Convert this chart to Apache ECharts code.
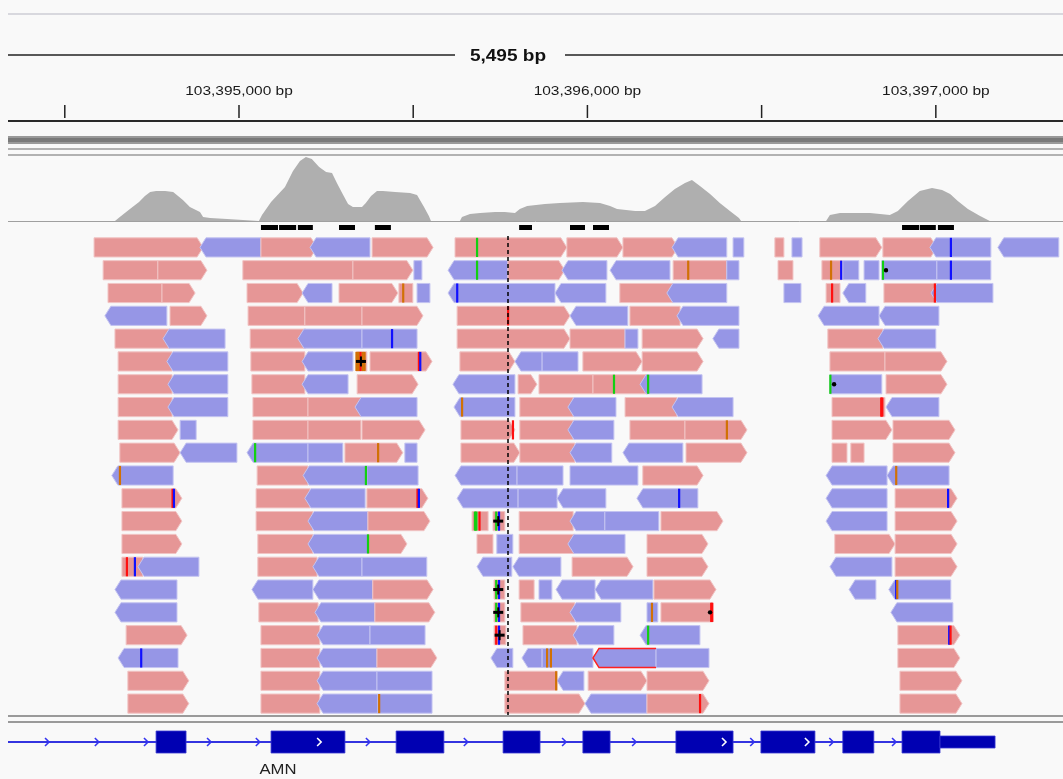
<!DOCTYPE html>
<html>
<head>
<meta charset="utf-8">
<script src="https://cdn.jsdelivr.net/npm/echarts@6/dist/echarts.min.js"></script>
<style>
  html, body { margin: 0; padding: 0; background: #f9f9f9; }
  #igv { width: 1063px; height: 779px; }
</style>
</head>
<body>
<div id="igv"></div>
<script>
// ---- data (positions are bp offsets from POS_BASE) ----
const POS_BASE = 103394000;
const VIEW_MIN = 337;
const VIEW_MAX = 3365;
const SPAN_LABEL = '5,495 bp';
const RULER_TICKS = [500, 1000, 1500, 2000, 2500, 3000];
const CENTER_BP = 1772;

// coverage profile: [bp, depth]
const COVERAGE = [
  [600, 0], [644, 0], [658, 4], [687, 12], [713, 19], [730, 25], [745, 29], [762, 30], [788, 30], [811, 29],
  [825, 25], [839, 21], [859, 14], [888, 9], [897, 4], [917, 3], [966, 2], [968, 0],
  [1057, 0], [1066, 6], [1092, 19], [1132, 34], [1155, 50], [1175, 60], [1192, 64], [1209, 62], [1230, 54],
  [1250, 49], [1267, 48], [1281, 38], [1296, 28], [1313, 17], [1327, 14], [1353, 14], [1364, 18], [1379, 25],
  [1396, 30], [1413, 30], [1448, 29], [1491, 28], [1511, 26], [1531, 14], [1545, 5], [1551, 0],
  [1634, 0], [1640, 4], [1663, 7], [1692, 8], [1735, 9], [1763, 9], [1792, 8], [1806, 12], [1827, 15],
  [1878, 17], [1921, 18], [1987, 19], [2036, 18], [2065, 15], [2085, 12], [2137, 10], [2165, 10], [2194, 15],
  [2223, 24], [2251, 32], [2280, 38], [2300, 41], [2323, 35], [2352, 27], [2380, 18], [2409, 10], [2435, 3], [2441, 0],
  [2685, 0], [2696, 6], [2725, 8], [2811, 8], [2840, 7], [2868, 6], [2891, 10], [2920, 20], [2954, 30],
  [2989, 33], [3018, 31], [3041, 27], [3063, 20], [3092, 12], [3127, 5], [3155, 0], [3365, 0]
];
// allele-coloured coverage slices: [bp, fromDepth, toDepth, base]
const ALLELE_BARS = [[1749, 0, 7, 'A'], [1749, 7, 9, 'C'], [3041, 0, 16, 'C'], [3041, 16, 26, 'G']];
// black marks under coverage: [start, end]
const FEATURE_MARKS = [
  [1063, 1112], [1115, 1164], [1169, 1212], [1287, 1333], [1390, 1436],
  [1804, 1841], [1950, 1993], [2016, 2062], [2903, 2952], [2954, 3000], [3006, 3052]
];

// reads: [row, start, end, forward(1)/reverse(0), arrow(1/0)]
const READS = [
  [1,584,897,1,1],[1,888,1063,0,1],[1,1063,1224,1,1],[1,1204,1376,0,1],[1,1382,1557,1,1],[1,1620,1941,1,1],
  [1,1941,2102,1,1],[1,2102,2260,1,1],[1,2243,2400,0,1],[1,2418,2449,0,0],[1,2538,2564,1,0],[1,2587,2616,0,0],
  [1,2667,2845,1,1],[1,2848,3003,1,1],[1,2983,3158,0,1],[1,3178,3353,0,1],
  [2,610,767,1,0],[2,767,908,1,1],[2,1011,1327,1,0],[2,1327,1499,1,1],[2,1502,1525,0,0],[2,1600,1772,0,1],
  [2,1772,1935,1,1],[2,1927,2056,0,1],[2,2065,2237,0,1],[2,2246,2400,1,0],[2,2400,2435,0,0],[2,2547,2590,1,0],
  [2,2673,2731,1,0],[2,2733,2779,0,0],[2,2794,2837,0,0],[2,2845,3003,0,0],[2,3003,3158,0,0],
  [3,624,779,1,0],[3,779,874,1,1],[3,1023,1184,1,1],[3,1181,1267,0,1],[3,1287,1456,1,1],[3,1459,1499,1,0],
  [3,1511,1548,0,0],[3,1600,1907,0,1],[3,1907,2053,0,1],[3,2093,2246,1,0],[3,2228,2400,0,1],[3,2564,2613,0,0],
  [3,2685,2725,1,0],[3,2733,2799,0,1],[3,2851,3003,1,0],[3,2986,3164,0,1],
  [4,615,793,0,1],[4,802,908,1,1],[4,1026,1189,1,0],[4,1189,1353,1,0],[4,1353,1528,1,1],[4,1626,1772,1,0],
  [4,1772,1950,1,1],[4,1950,2116,0,1],[4,2122,2266,1,0],[4,2257,2435,0,1],[4,2662,2837,0,1],[4,2837,3009,0,1],
  [5,644,802,1,0],[5,782,960,0,1],[5,1032,1192,1,0],[5,1169,1353,0,1],[5,1353,1511,0,0],[5,1626,1950,1,1],
  [5,1950,2108,1,0],[5,2108,2145,0,0],[5,2157,2332,1,1],[5,2360,2435,0,1],[5,2690,2848,1,0],[5,2834,3000,0,1],
  [6,653,808,1,0],[6,793,968,0,1],[6,1034,1189,1,0],[6,1181,1327,0,1],[6,1336,1367,1,0],[6,1376,1554,1,1],
  [6,1634,1792,1,1],[6,1792,1870,0,1],[6,1870,1973,0,0],[6,1987,2157,1,1],[6,2157,2332,1,1],[6,2696,2854,1,0],
  [6,2854,3032,1,1],
  [7,653,808,1,0],[7,796,968,0,1],[7,1037,1189,1,0],[7,1181,1313,0,1],[7,1339,1514,1,1],[7,1614,1792,0,1],
  [7,1801,1855,1,1],[7,1861,2016,1,0],[7,2016,2174,1,0],[7,2151,2329,0,1],[7,2696,2845,0,0],[7,2857,3032,1,1],
  [8,653,808,1,0],[8,796,968,0,1],[8,1040,1198,1,0],[8,1198,1350,1,0],[8,1333,1511,0,1],[8,1617,1792,0,1],
  [8,1806,1959,1,0],[8,1944,2082,0,1],[8,2108,2257,1,0],[8,2243,2418,0,1],[8,2702,2854,1,0],[8,2857,3009,0,1],
  [9,653,825,1,1],[9,831,877,0,0],[9,1040,1198,1,0],[9,1198,1350,1,0],[9,1353,1534,1,1],[9,1637,1792,1,1],
  [9,1806,1959,1,0],[9,1944,2076,0,1],[9,2122,2280,1,0],[9,2280,2458,1,1],[9,2702,2874,1,1],[9,2877,3055,1,1],
  [10,658,831,1,1],[10,831,994,0,1],[10,1023,1198,0,1],[10,1198,1298,0,0],[10,1304,1470,1,1],[10,1476,1511,0,0],
  [10,1637,1806,1,1],[10,1806,1964,1,0],[10,1950,2070,0,1],[10,2102,2274,0,1],[10,2283,2458,1,1],[10,2702,2745,1,0],
  [10,2756,2794,1,0],[10,2877,3055,1,1],
  [11,635,811,0,1],[11,1052,1198,1,0],[11,1184,1367,0,1],[11,1367,1514,0,0],[11,1620,1798,0,1],[11,1798,1930,0,0],
  [11,1950,2145,0,0],[11,2159,2332,1,1],[11,2685,2860,0,1],[11,2860,3038,0,1],
  [12,664,836,1,1],[12,1049,1204,1,0],[12,1189,1362,0,1],[12,1367,1542,1,1],[12,1626,1801,0,1],[12,1801,1913,0,0],
  [12,1913,2053,0,1],[12,2142,2317,0,1],[12,2685,2860,0,1],[12,2883,3061,1,1],
  [13,664,836,1,1],[13,1049,1212,1,0],[13,1198,1370,0,1],[13,1370,1548,1,1],[13,1669,1715,1,0],[13,1729,1763,1,0],
  [13,1804,1959,1,0],[13,1950,2050,0,1],[13,2050,2205,0,0],[13,2211,2389,1,1],[13,2685,2860,0,1],[13,2883,3061,1,1],
  [14,664,836,1,1],[14,1054,1212,1,0],[14,1198,1370,0,1],[14,1370,1482,1,1],[14,1683,1729,1,0],[14,1740,1786,0,0],
  [14,1804,1964,1,0],[14,1944,2108,0,1],[14,2171,2346,1,1],[14,2710,2883,1,1],[14,2883,3061,1,1],
  [15,664,724,1,0],[15,710,885,0,1],[15,1054,1224,1,0],[15,1212,1353,0,1],[15,1353,1539,0,0],[15,1683,1783,0,1],
  [15,1786,1924,0,1],[15,1956,2131,1,1],[15,2171,2346,1,1],[15,2696,2874,0,1],[15,2883,3061,1,1],
  [16,644,822,0,1],[16,1037,1212,0,1],[16,1212,1384,0,1],[16,1384,1557,1,1],[16,1732,1763,1,0],[16,1804,1847,1,0],
  [16,1861,1898,0,0],[16,1910,2022,0,1],[16,2022,2188,0,1],[16,2191,2369,1,1],[16,2751,2828,0,1],[16,2865,3043,0,1],
  [17,644,822,0,1],[17,1057,1227,1,0],[17,1218,1390,0,1],[17,1390,1562,1,1],[17,1732,1763,1,0],[17,1809,1964,1,0],
  [17,1950,2096,0,1],[17,2171,2202,0,0],[17,2211,2360,1,0],[17,2871,3049,0,1],
  [18,676,851,1,1],[18,1063,1232,1,0],[18,1224,1376,0,1],[18,1376,1534,0,0],[18,1732,1766,1,0],[18,1815,1970,1,0],
  [18,1959,2076,0,1],[18,2151,2323,0,1],[18,2891,3069,1,1],
  [19,653,825,0,1],[19,1063,1232,1,0],[19,1224,1396,0,1],[19,1396,1568,1,1],[19,1723,1786,0,1],[19,1812,1870,0,1],
  [19,1870,2016,0,0],[19,2016,2197,0,1],[19,2197,2349,0,0],[19,2891,3069,1,1],
  [20,681,856,1,1],[20,1063,1232,1,0],[20,1224,1396,0,1],[20,1396,1554,0,0],[20,1763,1913,1,0],[20,1913,1990,0,1],
  [20,2002,2171,1,1],[20,2171,2349,1,1],[20,2897,3075,1,1],
  [21,681,856,1,1],[21,1063,1232,1,0],[21,1224,1399,0,1],[21,1399,1554,0,0],[21,1763,1993,1,1],[21,1993,2171,0,1],
  [21,2171,2349,1,1],[21,2897,3075,1,1]
];
// read drawn with a red outline: [row, start, end]
const OUTLINED_READS = [[19, 2016, 2197]];
// mismatching bases: [row, bp, base]
const MISMATCHES = [
  [1,1683,'A'],[1,3043,'C'],
  [2,1683,'A'],[2,2289,'G'],[2,2699,'G'],[2,2728,'C'],[2,2848,'A'],[2,3043,'C'],
  [3,1626,'C'],[3,1471,'G'],[3,2702,'T'],[3,2997,'T'],
  [4,1772,'T'],
  [5,1439,'C'],
  [6,1337,'G'],[6,1341,'G'],[6,1345,'G'],[6,1349,'T'],[6,1355,'G'],[6,1360,'G'],[6,1516,'T'],[6,1520,'C'],
  [7,2076,'A'],[7,2174,'A'],[7,2697,'A'],
  [8,1640,'G'],[8,2843,'T'],[8,2846,'T'],
  [9,1786,'T'],[9,2400,'G'],
  [10,1046,'A'],[10,1399,'G'],
  [11,658,'G'],[11,1364,'A'],[11,2886,'G'],
  [12,809,'T'],[12,813,'C'],[12,1512,'T'],[12,1516,'C'],[12,2263,'C'],[12,3035,'C'],
  [13,1677,'A'],[13,1681,'A'],[13,1690,'T'],[13,1738,'A'],[13,1746,'C'],
  [14,1370,'A'],
  [15,678,'T'],[15,701,'C'],
  [16,1738,'A'],[16,1746,'C'],[16,2886,'C'],[16,2889,'G'],
  [17,1738,'A'],[17,1746,'C'],[17,2185,'G'],[17,2355,'T'],[17,2358,'T'],
  [18,1738,'T'],[18,1746,'C'],[18,2174,'A'],[18,3038,'C'],[18,3042,'T'],
  [19,719,'C'],[19,1884,'G'],[19,1895,'G'],
  [20,1910,'G'],
  [21,1402,'G'],[21,2323,'T']
];
// insertion markers: [row, bp]
const INSERTIONS = [[6, 1350], [13, 1744], [16, 1744], [17, 1744], [18, 1748]];
// small black indel dots: [row, bp]
const INDEL_DOTS = [[2, 2857], [7, 2708], [17, 2352]];

// gene model (AMN)
const GENE_NAME = 'AMN';
const GENE_LABEL_BP = 1112;
const GENE_SPAN = [[300, 3012]];
const EXONS = [[762,848],[1092,1304],[1451,1588],[1758,1864],[1987,2065],[2254,2418],[2498,2653],[2733,2822],[2903,3012]];
const UTRS = [[3012, 3170]];
const INTRON_ARROWS = [449, 592, 733, 914, 1054, 1370, 1651, 1933, 2134, 2473, 2700, 2880];
const EXON_ARROWS = [1230, 2392, 2630];

// ---- colours ----
const FWD_COLOR = '#e69696';
const REV_COLOR = '#9696e6';
const BASE_COLORS = { A: '#12d012', C: '#1010ff', G: '#d17105', T: '#ff1010' };
const GENE_COLOR = '#0000b2';
const FONT = '"Liberation Sans", Arial, sans-serif';
const STRETCH = 1.19;

const chart = echarts.init(document.getElementById('igv'));

function fmtPos(v) {
  return (POS_BASE + v).toLocaleString('en-US') + ' bp';
}

function readHalf(api) {
  return api.size([0, 1])[1] * 0.42;
}

function renderRead(params, api) {
  const row = api.value(0), s = api.value(1), e = api.value(2);
  const fwd = api.value(3) === 1, arrow = api.value(4) === 1;
  const p0 = api.coord([s, row]), p1 = api.coord([e, row]);
  const hh = readHalf(api);
  const yc = p0[1], top = yc - hh, bot = yc + hh;
  const x0 = p0[0], x1 = p1[0];
  const tip = Math.min(6, (x1 - x0) / 2);
  let pts;
  if (!arrow) pts = [[x0, top], [x1, top], [x1, bot], [x0, bot]];
  else if (fwd) pts = [[x0, top], [x1 - tip, top], [x1, yc], [x1 - tip, bot], [x0, bot]];
  else pts = [[x0 + tip, top], [x1, top], [x1, bot], [x0 + tip, bot], [x0, yc]];
  return {
    type: 'polygon',
    shape: { points: pts },
    style: { fill: fwd ? FWD_COLOR : REV_COLOR, stroke: fwd ? '#f1c4c4' : '#c4c4f1', lineWidth: 1 }
  };
}

function renderOutline(params, api) {
  const row = api.value(0);
  const p0 = api.coord([api.value(1), row]), p1 = api.coord([api.value(2), row]);
  const hh = readHalf(api), yc = p0[1];
  const x0 = p0[0], x1 = p1[0];
  return {
    type: 'polyline',
    shape: { points: [[x1, yc - hh], [x0 + 6, yc - hh], [x0, yc], [x0 + 6, yc + hh], [x1, yc + hh]] },
    style: { stroke: '#ff2020', lineWidth: 1.5, fill: null }
  };
}

function renderMismatch(params, api) {
  const p = api.coord([api.value(1), api.value(0)]);
  const hh = readHalf(api);
  return {
    type: 'rect',
    shape: { x: p[0] - 1, y: p[1] - hh, width: 2.2, height: hh * 2 },
    style: { fill: BASE_COLORS[MISMATCHES[params.dataIndex][2]] }
  };
}

function renderInsertion(params, api) {
  const p = api.coord([api.value(1), api.value(0)]);
  return {
    type: 'group',
    children: [
      { type: 'rect', shape: { x: p[0] - 5, y: p[1] - 1.5, width: 10, height: 3 }, style: { fill: '#000' } },
      { type: 'rect', shape: { x: p[0] - 1, y: p[1] - 5, width: 2, height: 10 }, style: { fill: '#000' } }
    ]
  };
}

function renderDot(params, api) {
  const p = api.coord([api.value(1), api.value(0)]);
  return { type: 'circle', shape: { cx: p[0], cy: p[1], r: 2.2 }, style: { fill: '#000' } };
}

function renderFeatureMark(params, api) {
  const x0 = api.coord([api.value(0), 1])[0], x1 = api.coord([api.value(1), 1])[0];
  const y = params.coordSys.y - 11;
  return { type: 'rect', shape: { x: x0, y: y, width: x1 - x0, height: 5 }, style: { fill: '#000' } };
}

function renderAllele(params, api) {
  const bp = api.value(0);
  const a = api.coord([bp, api.value(1)]), b = api.coord([bp, api.value(2)]);
  return {
    type: 'rect',
    shape: { x: a[0] - 1, y: b[1], width: 2, height: a[1] - b[1] },
    style: { fill: BASE_COLORS[ALLELE_BARS[params.dataIndex][3]] }
  };
}

function renderRulerTick(params, api) {
  const v = api.value(0);
  const x = api.coord([v, 0])[0];
  const bottom = params.coordSys.y + params.coordSys.height;
  const children = [{
    type: 'line',
    shape: { x1: x, y1: bottom - 16, x2: x, y2: bottom - 3 },
    style: { stroke: '#222', lineWidth: 1.5 }
  }];
  if (v % 1000 === 0) {
    children.push({
      type: 'text', x: x, y: bottom - 30, scaleX: STRETCH,
      style: { text: fmtPos(v), align: 'center', verticalAlign: 'middle', font: '13px ' + FONT, fill: '#1a1a1a' }
    });
  }
  return { type: 'group', children };
}

function geneY(api) {
  return api.coord([VIEW_MIN, 0.5])[1];
}

function renderIntronLine(params, api) {
  const x0 = api.coord([api.value(0), 0.5])[0], x1 = api.coord([api.value(1), 0.5])[0];
  const y = geneY(api);
  return { type: 'line', shape: { x1: x0, y1: y, x2: x1, y2: y }, style: { stroke: '#3434e0', lineWidth: 2 } };
}

function makeBlockRenderer(half) {
  return function (params, api) {
    const x0 = api.coord([api.value(0), 0.5])[0], x1 = api.coord([api.value(1), 0.5])[0];
    const y = geneY(api);
    return {
      type: 'rect',
      shape: { x: x0, y: y - half, width: x1 - x0, height: half * 2 },
      style: { fill: GENE_COLOR, stroke: '#3a3ad0', lineWidth: 0.8 }
    };
  };
}

function makeChevronRenderer(color) {
  return function (params, api) {
    const x = api.coord([api.value(0), 0.5])[0];
    const y = geneY(api);
    return {
      type: 'polyline',
      shape: { points: [[x - 2, y - 4], [x + 2, y], [x - 2, y + 4]] },
      style: { stroke: color, lineWidth: 1.6, fill: null }
    };
  };
}

function renderGeneLabel(params, api) {
  const x = api.coord([api.value(0), 0.5])[0];
  return {
    type: 'text', x: x, y: geneY(api) + 28, scaleX: STRETCH,
    style: { text: GENE_NAME, align: 'center', verticalAlign: 'middle', font: '14px ' + FONT, fill: '#222' }
  };
}

const xAxes = [0, 1, 2, 3].map(i => ({ type: 'value', gridIndex: i, min: VIEW_MIN, max: VIEW_MAX, show: false }));

const option = {
  backgroundColor: '#f9f9f9',
  animation: false,
  grid: [
    { left: 8, right: 0, top: 151, height: 70 },   // coverage
    { left: 8, right: 0, top: 236, height: 479 },  // alignments
    { left: 8, right: 0, top: 60, height: 61 },    // ruler
    { left: 8, right: 0, top: 725, height: 34 }    // gene
  ],
  xAxis: xAxes,
  yAxis: [
    { type: 'value', gridIndex: 0, min: 0, max: 70, show: false },
    { type: 'value', gridIndex: 1, min: 0.5, max: 21.5, inverse: true, show: false },
    { type: 'value', gridIndex: 2, min: 0, max: 1, show: false },
    { type: 'value', gridIndex: 3, min: 0, max: 1, show: false }
  ],
  graphic: [
    { type: 'line', shape: { x1: 8, y1: 14, x2: 1063, y2: 14 }, style: { stroke: '#d8d8de', lineWidth: 2 } },
    { type: 'line', shape: { x1: 8, y1: 55, x2: 455, y2: 55 }, style: { stroke: '#222', lineWidth: 1.3 } },
    { type: 'line', shape: { x1: 565, y1: 55, x2: 1063, y2: 55 }, style: { stroke: '#222', lineWidth: 1.3 } },
    { type: 'text', x: 508, y: 57, scaleX: STRETCH,
      style: { text: SPAN_LABEL, align: 'center', verticalAlign: 'middle', font: 'bold 16px ' + FONT, fill: '#111' } },
    { type: 'line', shape: { x1: 8, y1: 121, x2: 1063, y2: 121 }, style: { stroke: '#2a2a2a', lineWidth: 2 } },
    { type: 'rect', shape: { x: 8, y: 136, width: 1055, height: 8 }, style: { fill: '#9a9a9a' } },
    { type: 'rect', shape: { x: 8, y: 138, width: 1055, height: 4 }, style: { fill: '#7a7a7a' } },
    { type: 'line', shape: { x1: 8, y1: 149, x2: 1063, y2: 149 }, style: { stroke: '#9a9a9a', lineWidth: 1.5 } },
    { type: 'line', shape: { x1: 8, y1: 155, x2: 1063, y2: 155 }, style: { stroke: '#9a9a9a', lineWidth: 1.5 } },
    { type: 'line', shape: { x1: 8, y1: 221.5, x2: 1063, y2: 221.5 }, style: { stroke: '#a0a0a0', lineWidth: 1 } },
    { type: 'line', shape: { x1: 8, y1: 716, x2: 1063, y2: 716 }, style: { stroke: '#9a9a9a', lineWidth: 2 } },
    { type: 'line', shape: { x1: 8, y1: 722, x2: 1063, y2: 722 }, style: { stroke: '#9a9a9a', lineWidth: 2 } }
  ],
  series: [
    {
      type: 'line', name: 'coverage', xAxisIndex: 0, yAxisIndex: 0,
      data: COVERAGE, showSymbol: false, lineStyle: { width: 0 },
      areaStyle: { color: '#afafaf', opacity: 1 }, silent: true
    },
    {
      type: 'custom', xAxisIndex: 0, yAxisIndex: 0, data: ALLELE_BARS,
      renderItem: renderAllele, encode: { x: 0, y: [1, 2] }, silent: true
    },
    {
      type: 'custom', xAxisIndex: 1, yAxisIndex: 1, data: FEATURE_MARKS,
      renderItem: renderFeatureMark, encode: { x: [0, 1] }, clip: false, silent: true
    },
    {
      type: 'custom', name: 'reads', xAxisIndex: 1, yAxisIndex: 1, data: READS,
      renderItem: renderRead, encode: { x: [1, 2], y: 0 }, clip: true, silent: true
    },
    {
      type: 'custom', xAxisIndex: 1, yAxisIndex: 1, data: MISMATCHES.map(m => [m[0], m[1]]),
      renderItem: renderMismatch, encode: { x: 1, y: 0 }, silent: true
    },
    {
      type: 'custom', xAxisIndex: 1, yAxisIndex: 1, data: OUTLINED_READS,
      renderItem: renderOutline, encode: { x: [1, 2], y: 0 }, silent: true
    },
    {
      type: 'custom', xAxisIndex: 1, yAxisIndex: 1, data: INSERTIONS,
      renderItem: renderInsertion, encode: { x: 1, y: 0 }, silent: true
    },
    {
      type: 'custom', xAxisIndex: 1, yAxisIndex: 1, data: INDEL_DOTS,
      renderItem: renderDot, encode: { x: 1, y: 0 }, silent: true,
      markLine: {
        silent: true, symbol: 'none', label: { show: false },
        lineStyle: { color: '#000', type: [4, 3], width: 1.5 },
        data: [{ xAxis: CENTER_BP }]
      }
    },
    {
      type: 'custom', xAxisIndex: 2, yAxisIndex: 2, data: RULER_TICKS.map(v => [v, 0]),
      renderItem: renderRulerTick, encode: { x: 0 }, clip: false, silent: true
    },
    {
      type: 'custom', xAxisIndex: 3, yAxisIndex: 3, data: GENE_SPAN,
      renderItem: renderIntronLine, encode: { x: [0, 1] }, clip: true, silent: true
    },
    {
      type: 'custom', xAxisIndex: 3, yAxisIndex: 3, data: INTRON_ARROWS.map(v => [v]),
      renderItem: makeChevronRenderer('#3434f0'), encode: { x: 0 }, clip: true, silent: true
    },
    {
      type: 'custom', xAxisIndex: 3, yAxisIndex: 3, data: EXONS,
      renderItem: makeBlockRenderer(11), encode: { x: [0, 1] }, silent: true
    },
    {
      type: 'custom', xAxisIndex: 3, yAxisIndex: 3, data: UTRS,
      renderItem: makeBlockRenderer(6), encode: { x: [0, 1] }, silent: true
    },
    {
      type: 'custom', xAxisIndex: 3, yAxisIndex: 3, data: EXON_ARROWS.map(v => [v]),
      renderItem: makeChevronRenderer('#ffffff'), encode: { x: 0 }, silent: true
    },
    {
      type: 'custom', xAxisIndex: 3, yAxisIndex: 3, data: [[GENE_LABEL_BP]],
      renderItem: renderGeneLabel, encode: { x: 0 }, clip: false, silent: true
    }
  ]
};

chart.setOption(option);
</script>
</body>
</html>
